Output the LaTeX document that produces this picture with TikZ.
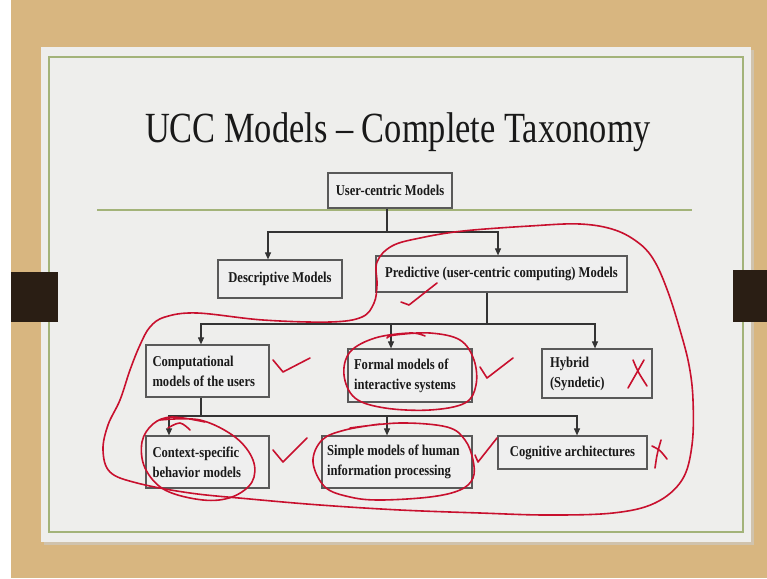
\documentclass[tikz,border=0pt]{standalone}
\usepackage{fontspec}
\setmainfont{Liberation Serif}
\newfontfamily\boxfont{Liberation Serif}[FakeStretch=0.84]
\newfontfamily\titlefont{Liberation Serif}[FakeStretch=0.8]
\usetikzlibrary{arrows.meta,shadows}
\definecolor{wood}{HTML}{D8B680}
\definecolor{slide}{HTML}{EEEEEC}
\definecolor{frame}{HTML}{A3B379}
\definecolor{tabc}{HTML}{2A1E14}
\definecolor{pen}{HTML}{C8102E}
\definecolor{boxfill}{HTML}{EFEFEF}
\tikzset{
  box/.style={draw=black!65, line width=1.2pt, fill=boxfill, inner sep=0pt,
    font=\boxfont\bfseries\fontsize{15}{20}\selectfont, text=black!90,
    drop shadow={shadow xshift=1.2pt, shadow yshift=-1.2pt, opacity=0.45}},
  conn/.style={draw=black!80, line width=1.1pt},
  arr/.style={conn, -{Triangle[length=7pt,width=6pt]}},
  ink/.style={draw=pen, line width=1.6pt, line cap=round, line join=round},
}
\begin{document}
\begin{tikzpicture}[x=1pt,y=-1pt]
\useasboundingbox (0,0) rectangle (767,578);
% background
\fill[wood] (0,0) rectangle (767,578);
\fill[white] (0,0) rectangle (11,578);
\fill[black!20, opacity=0.6] (44,50) rectangle (754,545);
\fill[slide] (41,47) rectangle (751,542);
\draw[frame, line width=1.3pt] (49,57) rectangle (743,532);
\fill[tabc] (11,272) rectangle (58,322);
\fill[tabc] (733,270) rectangle (767,322);
% title
\node[font=\titlefont\fontsize{43}{50}\selectfont, anchor=base, text=black!90] (title) at (398,142) {UCC Models – Complete Taxonomy};
% green rule
\draw[frame, line width=1.5pt] (97,210) -- (692,210);
% boxes
\node[box, minimum width=124pt, minimum height=35pt] (uc) at (390,190.5) {User-centric Models};
\node[box, minimum width=124pt, minimum height=38pt] (desc) at (280,279) {Descriptive Models};
\node[box, minimum width=251pt, minimum height=36pt] (pred) at (501.5,274) {Predictive (user-centric computing) Models};
\node[box, minimum width=123pt, minimum height=52pt, text width=110pt, align=flush left] (comp) at (207.5,371) {Computational\\models of the users};
\node[box, minimum width=124pt, minimum height=53pt, text width=112pt, align=flush left] (formal) at (410,375.5) {Formal models of\\interactive systems};
\node[box, minimum width=110pt, minimum height=49pt, text width=94pt, align=flush left] (hybrid) at (597,373.5) {Hybrid\\(Syndetic)};
\node[box, minimum width=123pt, minimum height=52pt, text width=110pt, align=flush left] (ctx) at (207.5,462) {Context-specific\\behavior models};
\node[box, minimum width=150pt, minimum height=52pt, text width=140pt, align=flush left] (simple) at (397,462) {Simple models of human\\information processing};
\node[box, minimum width=149pt, minimum height=33pt] (cog) at (572.5,452.5) {Cognitive architectures};
% connectors level 1
\coordinate (j1) at (387,232);
\draw[conn] ([xshift=-3pt]uc.south) -- (j1);
\draw[arr] (j1) -| ([xshift=-12pt]desc.north);
\draw[arr] (j1) -| ([xshift=-3.5pt]pred.north);
% level 2
\coordinate (j2) at (487,324);
\draw[conn] ([xshift=-14.5pt]pred.south) -- (j2);
\draw[arr] (j2) -| ([xshift=-6.5pt]comp.north);
\draw[arr] (j2) -| ([xshift=-19pt]formal.north);
\draw[arr] (j2) -| ([xshift=-2pt]hybrid.north);
% level 3
\coordinate (j3) at (201,416);
\draw[conn] ([xshift=-6.5pt]comp.south) -- (j3);
\draw[arr] (j3) -| ([xshift=-38.5pt]ctx.north);
\draw[arr] (j3) -| ([xshift=-10pt]simple.north);
\draw[arr] (j3) -| ([xshift=4.5pt]cog.north);
% red annotations
\draw[ink] plot[smooth cycle, tension=0.6] coordinates {(377,262) (392,246) (420,238) (463,231) (530,226) (580,224) (615,230) (640,244) (655,262) (668,292) (680,330) (689,365) (693,400) (692,445) (682,480) (655,503) (613,513) (547,515) (480,513) (400,510) (320,505) (250,499) (190,493) (137,483) (110,472) (103,450) (108,425) (120,400) (130,370) (140,345) (150,327) (165,317) (197,313) (263,320) (330,322) (362,317) (374,303) (377,285)};
\draw[ink] plot[smooth, tension=0.6] coordinates {(387,338) (395,335) (430,333) (460,340) (474,360) (476,385) (465,403) (430,410) (385,408) (355,398) (344,375) (350,352) (375,338) (410,333) (425,336)};
\draw[ink] plot[smooth, tension=0.6] coordinates {(160,420) (200,420) (235,437) (253,460) (252,482) (232,497) (203,500) (165,490) (145,468) (142,442) (153,424) (172,417) (205,422)};
\draw[ink] plot[smooth, tension=0.6] coordinates {(168,428) (180,423) (190,430)};
\draw[ink] plot[smooth, tension=0.6] coordinates {(350,428) (400,423) (447,427) (465,440) (473,460) (473,478) (460,490) (430,497) (380,500) (350,497) (325,487) (313,462) (322,440) (345,430) (380,424)};
% check marks
\draw[ink] (401,302) -- (409,305) -- (437,283);
\draw[ink] (273,360) -- (283,372) -- (310,358);
\draw[ink] (480,367) -- (487,378) -- (513,358);
\draw[ink] (273,450) -- (283,462) -- (307,438);
\draw[ink] (475,455) -- (478,462) -- (497,438);
% crosses
\draw[ink] (633,360) .. controls (638,372) .. (647,386);
\draw[ink] (644,360) .. controls (636,374) .. (628,388);
\draw[ink] (652,446) .. controls (660,450) .. (667,459);
\draw[ink] (661,440) .. controls (657,454) .. (655,468);
\end{tikzpicture}
\end{document}
